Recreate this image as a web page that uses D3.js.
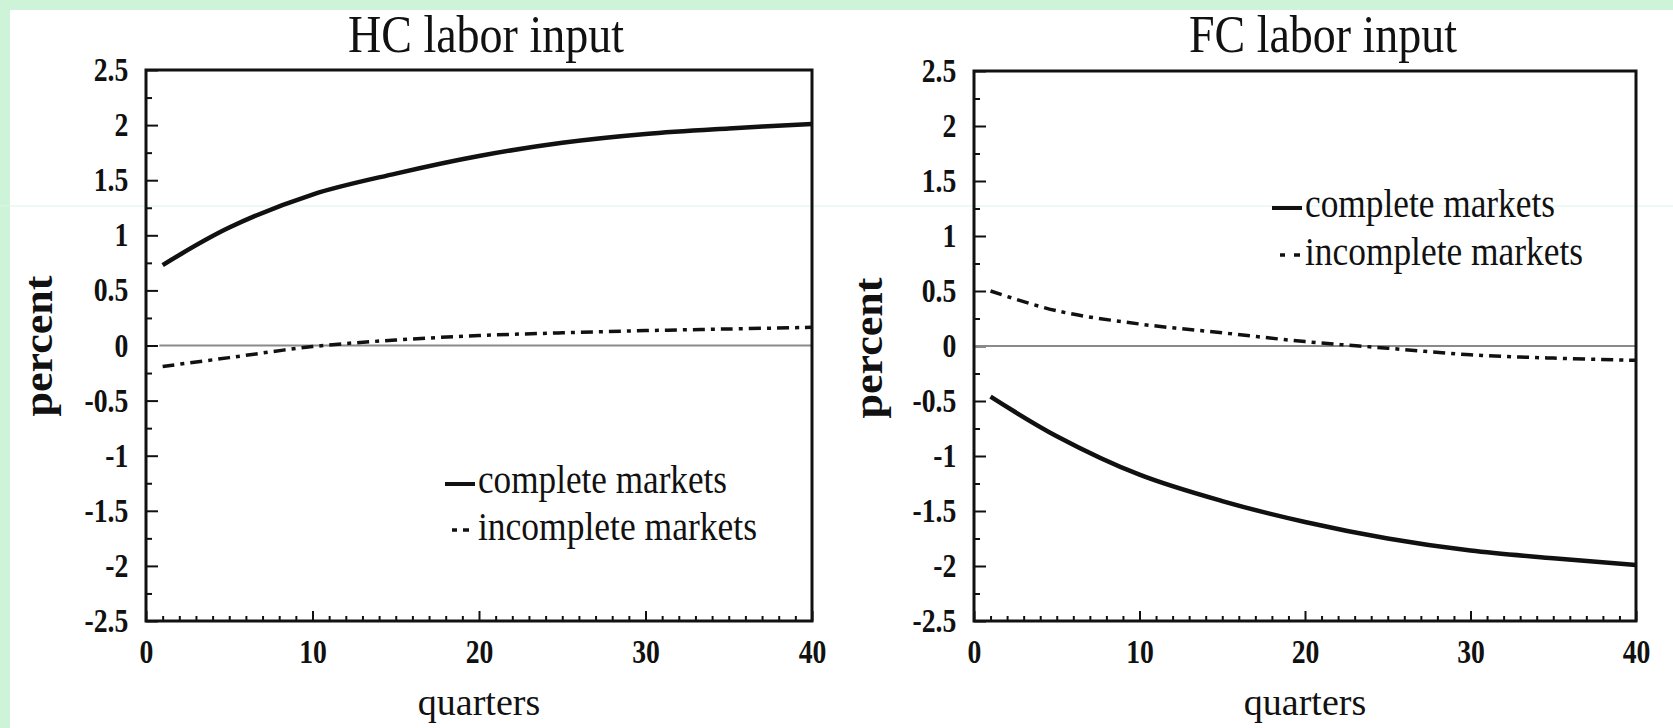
<!DOCTYPE html>
<html>
<head>
<meta charset="utf-8">
<script src="https://cdn.jsdelivr.net/npm/d3@7"></script>
<style>
  html, body { margin: 0; padding: 0; background: #fff; }
  svg { display: block; }
  text { font-family: "Liberation Serif", "Times New Roman", serif; fill: #111; }
</style>
</head>
<body>
<svg id="chart" width="1673" height="728"></svg>
<script>
// Impulse responses of labor input (percent deviation), by quarter
const quarters     = [1, 5, 10, 15, 20, 25, 30, 35, 40];
const hcComplete   = [0.73, 1.07, 1.37, 1.56, 1.72, 1.84, 1.92, 1.97, 2.01];
const hcIncomplete = [-0.19, -0.11, -0.01, 0.05, 0.09, 0.115, 0.135, 0.15, 0.165];
const fcComplete   = [-0.46, -0.82, -1.17, -1.41, -1.60, -1.75, -1.86, -1.93, -1.99];
const fcIncomplete = [0.50, 0.32, 0.20, 0.12, 0.04, -0.02, -0.08, -0.11, -0.13];

const panelTitles  = ["HC labor input", "FC labor input"];
const legendLabels = ["complete markets", "incomplete markets"];
const yTickValues  = [2.5, 2, 1.5, 1, 0.5, 0, -0.5, -1, -1.5, -2, -2.5];
const xTickValues  = [0, 10, 20, 30, 40];
const xLabel = "quarters";
const yLabel = "percent";

const svg = d3.select("#chart");
const INK = "#111";

// page background with the green margin strips
svg.append("rect").attr("width", 1673).attr("height", 728).attr("fill", "#fff");
svg.append("rect").attr("width", 1673).attr("height", 10).attr("fill", "#cdf3d9");
svg.append("rect").attr("width", 10).attr("height", 728).attr("fill", "#cdf3d9");
svg.append("line").attr("x1", 0).attr("x2", 1673).attr("y1", 206).attr("y2", 206)
  .attr("stroke", "#ddf4e8").attr("stroke-width", 1);

const panels = [
  {
    title: panelTitles[0], complete: hcComplete, incomplete: hcIncomplete,
    left: 146, right: 812, top: 70, bottom: 621,
    titleX: 486, titleW: 276, zeroFrom: 0.8, ylabX: 52, ylabY: 346,
    legend: { lineX: [445, 475], lineY: 484, dots: [[452, 457], [463, 469]], dotY: 530,
              textX: 478, base: [493, 540], widths: [249, 279] }
  },
  {
    title: panelTitles[1], complete: fcComplete, incomplete: fcIncomplete,
    left: 974, right: 1636, top: 71, bottom: 621,
    titleX: 1323, titleW: 268, zeroFrom: 0, ylabX: 882, ylabY: 348,
    legend: { lineX: [1272, 1302], lineY: 208, dots: [[1280, 1285], [1294, 1300]], dotY: 255,
              textX: 1305, base: [217, 265], widths: [250, 278] }
  }
];

panels.forEach(p => {
  const x = d3.scaleLinear().domain([0, 40]).range([p.left, p.right]);
  const y = d3.scaleLinear().domain([-2.5, 2.5]).range([p.bottom, p.top]);
  const g = svg.append("g");

  // minor ticks (inward)
  const yMinor = g.append("g").attr("transform", `translate(${p.left},0)`)
    .call(d3.axisLeft(y).tickValues(d3.range(-2.25, 2.5, 0.5)).tickSize(-6).tickFormat(""));
  const xMinor = g.append("g").attr("transform", `translate(0,${p.bottom})`)
    .call(d3.axisBottom(x).tickValues(d3.range(1, 40).filter(v => v % 10 !== 0)).tickSize(-5).tickFormat(""));

  // major ticks with labels
  const yAxis = g.append("g").attr("transform", `translate(${p.left},0)`)
    .call(d3.axisLeft(y).tickValues(yTickValues).tickSize(-12).tickPadding(21).tickFormat(d => String(d)));
  const xAxis = g.append("g").attr("transform", `translate(0,${p.bottom})`)
    .call(d3.axisBottom(x).tickValues(xTickValues).tickSize(-10).tickPadding(19).tickFormat(d => String(d)));

  [yMinor, xMinor, yAxis, xAxis].forEach(a => {
    a.select(".domain").remove();
    a.selectAll(".tick line").attr("stroke", INK).attr("stroke-width", 2);
  });
  [yAxis, xAxis].forEach(a => {
    a.attr("font-size", 33).attr("font-family", '"Liberation Serif", "Times New Roman", serif');
    a.selectAll(".tick text")
      .style("font-size", "33px").style("font-weight", "bold").attr("fill", INK)
      .attr("transform", "scale(0.84,1)");
  });

  // zero reference line
  g.append("line")
    .attr("x1", x(p.zeroFrom)).attr("x2", x(40)).attr("y1", y(0)).attr("y2", y(0))
    .attr("stroke", "#8a8a8a").attr("stroke-width", 2);

  const line = d3.line()
    .x((d, i) => x(quarters[i]))
    .y(d => y(d))
    .curve(d3.curveCatmullRom);

  g.append("path").datum(p.incomplete).attr("d", line)
    .attr("fill", "none").attr("stroke", INK).attr("stroke-width", 3.5)
    .attr("stroke-dasharray", "12,6,4,6");
  g.append("path").datum(p.complete).attr("d", line)
    .attr("fill", "none").attr("stroke", INK).attr("stroke-width", 4.5);

  // frame
  g.append("rect")
    .attr("x", p.left).attr("y", p.top)
    .attr("width", p.right - p.left).attr("height", p.bottom - p.top)
    .attr("fill", "none").attr("stroke", INK).attr("stroke-width", 3);

  // title
  svg.append("text")
    .attr("x", p.titleX).attr("y", 52).attr("text-anchor", "middle")
    .attr("font-size", 53).attr("textLength", p.titleW).attr("lengthAdjust", "spacingAndGlyphs")
    .text(p.title);

  // axis titles
  svg.append("text")
    .attr("x", x(20)).attr("y", 715).attr("text-anchor", "middle")
    .attr("font-size", 38).text(xLabel);
  svg.append("text")
    .attr("transform", `translate(${p.ylabX},${p.ylabY}) rotate(-90)`)
    .attr("text-anchor", "middle").attr("font-size", 40).attr("font-weight", "bold")
    .attr("textLength", 141).attr("lengthAdjust", "spacingAndGlyphs")
    .text(yLabel);

  // legend
  const L = p.legend;
  svg.append("line")
    .attr("x1", L.lineX[0]).attr("x2", L.lineX[1]).attr("y1", L.lineY).attr("y2", L.lineY)
    .attr("stroke", INK).attr("stroke-width", 4);
  L.dots.forEach(d => {
    svg.append("line")
      .attr("x1", d[0]).attr("x2", d[1]).attr("y1", L.dotY).attr("y2", L.dotY)
      .attr("stroke", INK).attr("stroke-width", 3.5);
  });
  legendLabels.forEach((lab, i) => {
    svg.append("text")
      .attr("x", L.textX).attr("y", L.base[i])
      .attr("font-size", 39).attr("textLength", L.widths[i]).attr("lengthAdjust", "spacingAndGlyphs")
      .text(lab);
  });
});
</script>
</body>
</html>
